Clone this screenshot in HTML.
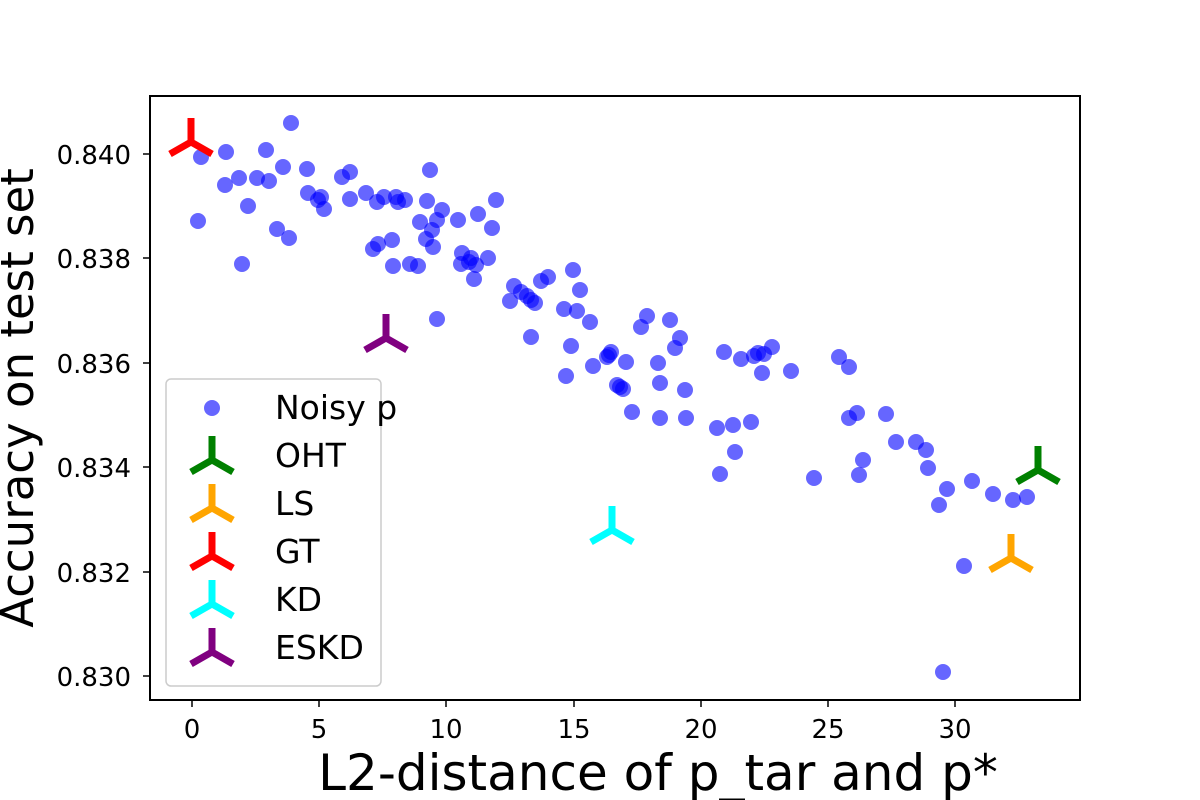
<!DOCTYPE html>
<html><head><meta charset="utf-8"><style>body{margin:0;background:#fff}svg{display:block}text{font-family:"DejaVu Sans","Liberation Sans",sans-serif}</style></head>
<body>
<svg width="1200" height="800" xmlns="http://www.w3.org/2000/svg">
<defs>
<g id="tri" fill="none" stroke-width="7" stroke-linecap="butt"><path d="M0,0V-24M0,0L-21,12M0,0L21,12"/></g>
</defs>
<rect x="150" y="96" width="930" height="604" fill="#fff" stroke="#000" stroke-width="2"/>
<g fill="#0000ff" fill-opacity="0.6">
<circle cx="201" cy="157" r="8"/><circle cx="198" cy="221" r="8"/><circle cx="226" cy="152" r="8"/><circle cx="225" cy="185" r="8"/><circle cx="239" cy="178" r="8"/><circle cx="242" cy="264" r="8"/><circle cx="248" cy="206" r="8"/><circle cx="257" cy="178" r="8"/><circle cx="266" cy="150" r="8"/><circle cx="269" cy="181" r="8"/><circle cx="277" cy="229" r="8"/><circle cx="283" cy="167" r="8"/><circle cx="289" cy="238" r="8"/><circle cx="291" cy="123" r="8"/><circle cx="307" cy="169" r="8"/><circle cx="308" cy="193" r="8"/><circle cx="318" cy="200" r="8"/><circle cx="321" cy="197" r="8"/><circle cx="324" cy="209" r="8"/><circle cx="342" cy="177" r="8"/><circle cx="350" cy="172" r="8"/><circle cx="350" cy="199" r="8"/><circle cx="366" cy="193" r="8"/><circle cx="373" cy="249" r="8"/><circle cx="377" cy="202" r="8"/><circle cx="378" cy="244" r="8"/><circle cx="384" cy="197" r="8"/><circle cx="392" cy="240" r="8"/><circle cx="393" cy="266" r="8"/><circle cx="396" cy="197" r="8"/><circle cx="398" cy="202" r="8"/><circle cx="405" cy="200" r="8"/><circle cx="410" cy="264" r="8"/><circle cx="418" cy="266" r="8"/><circle cx="420" cy="222" r="8"/><circle cx="426" cy="239" r="8"/><circle cx="427" cy="201" r="8"/><circle cx="430" cy="170" r="8"/><circle cx="433" cy="247" r="8"/><circle cx="432" cy="230" r="8"/><circle cx="437" cy="220" r="8"/><circle cx="437" cy="319" r="8"/><circle cx="442" cy="210" r="8"/><circle cx="458" cy="220" r="8"/><circle cx="461" cy="264" r="8"/><circle cx="462" cy="253" r="8"/><circle cx="469" cy="262" r="8"/><circle cx="471" cy="258" r="8"/><circle cx="474" cy="279" r="8"/><circle cx="476" cy="265" r="8"/><circle cx="478" cy="214" r="8"/><circle cx="488" cy="258" r="8"/><circle cx="492" cy="228" r="8"/><circle cx="496" cy="200" r="8"/><circle cx="510" cy="301" r="8"/><circle cx="514" cy="286" r="8"/><circle cx="521" cy="292" r="8"/><circle cx="527" cy="296" r="8"/><circle cx="531" cy="300" r="8"/><circle cx="531" cy="337" r="8"/><circle cx="535" cy="303" r="8"/><circle cx="541" cy="281" r="8"/><circle cx="548" cy="277" r="8"/><circle cx="564" cy="309" r="8"/><circle cx="566" cy="376" r="8"/><circle cx="571" cy="346" r="8"/><circle cx="573" cy="270" r="8"/><circle cx="577" cy="311" r="8"/><circle cx="580" cy="290" r="8"/><circle cx="590" cy="322" r="8"/><circle cx="593" cy="366" r="8"/><circle cx="607" cy="357" r="8"/><circle cx="609" cy="355" r="8"/><circle cx="611" cy="352" r="8"/><circle cx="617" cy="385" r="8"/><circle cx="620" cy="387" r="8"/><circle cx="623" cy="389" r="8"/><circle cx="626" cy="362" r="8"/><circle cx="632" cy="412" r="8"/><circle cx="641" cy="327" r="8"/><circle cx="647" cy="316" r="8"/><circle cx="658" cy="363" r="8"/><circle cx="660" cy="383" r="8"/><circle cx="660" cy="418" r="8"/><circle cx="670" cy="320" r="8"/><circle cx="675" cy="348" r="8"/><circle cx="680" cy="338" r="8"/><circle cx="685" cy="390" r="8"/><circle cx="686" cy="418" r="8"/><circle cx="717" cy="428" r="8"/><circle cx="720" cy="474" r="8"/><circle cx="724" cy="352" r="8"/><circle cx="733" cy="425" r="8"/><circle cx="735" cy="452" r="8"/><circle cx="741" cy="359" r="8"/><circle cx="751" cy="422" r="8"/><circle cx="754" cy="356" r="8"/><circle cx="758" cy="353" r="8"/><circle cx="762" cy="373" r="8"/><circle cx="764" cy="354" r="8"/><circle cx="772" cy="347" r="8"/><circle cx="791" cy="371" r="8"/><circle cx="814" cy="478" r="8"/><circle cx="839" cy="357" r="8"/><circle cx="849" cy="367" r="8"/><circle cx="849" cy="418" r="8"/><circle cx="857" cy="413" r="8"/><circle cx="859" cy="475" r="8"/><circle cx="863" cy="460" r="8"/><circle cx="886" cy="414" r="8"/><circle cx="896" cy="442" r="8"/><circle cx="916" cy="442" r="8"/><circle cx="926" cy="450" r="8"/><circle cx="928" cy="468" r="8"/><circle cx="939" cy="505" r="8"/><circle cx="947" cy="489" r="8"/><circle cx="964" cy="566" r="8"/><circle cx="972" cy="481" r="8"/><circle cx="993" cy="494" r="8"/><circle cx="1013" cy="500" r="8"/><circle cx="1027" cy="497" r="8"/><circle cx="943" cy="672" r="8"/>
</g>
<use href="#tri" x="191" y="142" stroke="#ff0000"/>
<use href="#tri" x="386" y="338" stroke="#800080"/>
<use href="#tri" x="612" y="530" stroke="#00ffff"/>
<use href="#tri" x="1011" y="558" stroke="#ffa500"/>
<use href="#tri" x="1038" y="470" stroke="#008000"/>
<g stroke="#000" stroke-width="1.5">
<path d="M192,700v7M319,700v7M446,700v7M574,700v7M701,700v7M828,700v7M955,700v7"/>
<path d="M150,154h-7M150,258h-7M150,363h-7M150,467h-7M150,572h-7M150,676h-7"/>
</g>
<g font-size="26" text-anchor="middle">
<text x="192" y="738">0</text><text x="319" y="738">5</text><text x="446" y="738">10</text><text x="574" y="738">15</text><text x="701" y="738">20</text><text x="828" y="738">25</text><text x="955" y="738">30</text>
</g>
<g font-size="26" text-anchor="end">
<text x="131" y="164">0.840</text><text x="131" y="268">0.838</text><text x="131" y="373">0.836</text><text x="131" y="477">0.834</text><text x="131" y="582">0.832</text><text x="131" y="686">0.830</text>
</g>
<text x="658" y="790" font-size="50" text-anchor="middle">L2-distance of p_tar and p*</text>
<text transform="translate(33,398) rotate(-90)" font-size="45" text-anchor="middle">Accuracy on test set</text>
<rect x="166" y="379" width="215" height="307" rx="5" fill="#fff" fill-opacity="0.8" stroke="#ccc" stroke-width="1.5"/>
<circle cx="212" cy="408" r="8" fill="#0000ff" fill-opacity="0.6"/>
<use href="#tri" x="212" y="460" stroke="#008000"/>
<use href="#tri" x="212" y="508" stroke="#ffa500"/>
<use href="#tri" x="212" y="556" stroke="#ff0000"/>
<use href="#tri" x="212" y="604" stroke="#00ffff"/>
<use href="#tri" x="212" y="652" stroke="#800080"/>
<g font-size="33">
<text x="275" y="419">Noisy p</text><text x="275" y="467">OHT</text><text x="275" y="515">LS</text><text x="275" y="563">GT</text><text x="275" y="611">KD</text><text x="275" y="659">ESKD</text>
</g>
</svg>
</body></html>
